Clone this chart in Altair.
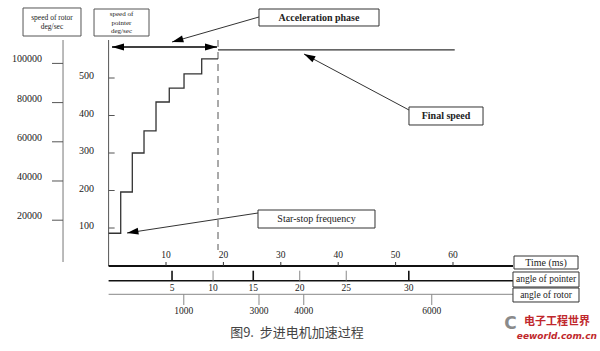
import altair as alt
import pandas as pd

# ---------------- data ----------------
step_time = [0, 2.11, 4.13, 6.17, 8.26, 10.57, 13.14, 16.22, 19.06]
step_speed = [86, 196, 300, 359, 436, 473, 511, 551, 551]
final_time = [19.06, 60.3]
final_speed = [575, 575]
accel_end = 19.06

rotor_ticks = [20000, 40000, 60000, 80000, 100000]
pointer_ticks = [100, 200, 300, 400, 500]
time_ticks = [10, 20, 30, 40, 50, 60]
angle_pointer_labels = ["5", "10", "15", "20", "25", "30"]
angle_pointer_time = [11.05, 18.2, 25.2, 33.3, 41.4, 52.3]
angle_pointer_major = [True, False, True, False, False, True]
angle_rotor_labels = ["1000", "3000", "4000", "6000"]
angle_rotor_time = [13.1, 26.2, 34.0, 56.3]

caption = "图9.\u00a0\u00a0步进电机加速过程"

# ---------------- scales ----------------
XS = alt.Scale(domain=[-18.92, 85.61], nice=False, zero=False)
YS = alt.Scale(domain=[-228, 708], nice=False, zero=False)
RS = alt.Scale(domain=[-46735, 132347], nice=False, zero=False)

SERIF = "Liberation Serif"
INK = "#222222"


def df(**cols):
    return pd.DataFrame(cols)


def rule(d, color=INK, width=1.0, dash=None, yscale=YS):
    kw = dict(color=color, strokeWidth=width)
    if dash:
        kw["strokeDash"] = dash
    return alt.Chart(d).mark_rule(**kw).encode(
        x=alt.X("x:Q", scale=XS, axis=None),
        x2="x2:Q",
        y=alt.Y("y:Q", scale=yscale, axis=None),
        y2="y2:Q",
    )


def text(d, size=9.5, align="center", font=SERIF, weight="normal", color=INK,
         dx=0, dy=0, style="normal", yscale=YS):
    return alt.Chart(d).mark_text(
        fontSize=size, align=align, baseline="middle", font=font,
        fontWeight=weight, color=color, dx=dx, dy=dy, fontStyle=style,
    ).encode(
        x=alt.X("x:Q", scale=XS, axis=None),
        y=alt.Y("y:Q", scale=yscale, axis=None),
        text="t:N",
    )


def box(x, x2, y, y2, stroke="#333333", width=1.0):
    return alt.Chart(df(x=[x], x2=[x2], y=[y], y2=[y2])).mark_rect(
        fill="white", stroke=stroke, strokeWidth=width
    ).encode(
        x=alt.X("x:Q", scale=XS, axis=None),
        x2="x2:Q",
        y=alt.Y("y:Q", scale=YS, axis=None),
        y2="y2:Q",
    )


ARROW = "M 0 0 L -2 -0.6 L -2 0.6 Z"


def head(x, y, angle, size=144):
    return alt.Chart(df(x=[x], y=[y])).mark_point(
        shape=ARROW, filled=True, size=size, color="black", opacity=1,
        angle=angle, strokeWidth=0,
    ).encode(
        x=alt.X("x:Q", scale=XS, axis=None),
        y=alt.Y("y:Q", scale=YS, axis=None),
    )


layers = []

# ---- left axes ----
layers.append(rule(df(x=[-7.94], x2=[-7.94], y=[601.3], y2=[9.3]), color="#777777"))
layers.append(rule(df(x=[0], x2=[0], y=[601.3], y2=[-1.3]), color="#555555"))
layers.append(rule(df(x=[-9.86] * 5, x2=[-7.94] * 5, y=rotor_ticks, y2=rotor_ticks),
                   color="#555555", yscale=RS))
layers.append(text(df(x=[-11.6] * 5, y=rotor_ticks, t=[str(v) for v in rotor_ticks]),
                   size=10, align="right", dy=-4, yscale=RS))
layers.append(rule(df(x=[0] * 5, x2=[1.05] * 5, y=pointer_ticks, y2=pointer_ticks),
                   color="#555555"))
layers.append(text(df(x=[-2.54] * 5, y=pointer_ticks, t=[str(v) for v in pointer_ticks]),
                   size=10, align="right", dy=-2))

# ---- dashed end of acceleration ----
layers.append(rule(df(x=[accel_end], x2=[accel_end], y=[601.3], y2=[41.3]),
                   color="#555555", dash=[7, 5]))

# ---- speed profile ----
layers.append(alt.Chart(df(x=step_time, y=step_speed)).mark_line(
    interpolate="step-after", color="#333333", strokeWidth=1.3
).encode(x=alt.X("x:Q", scale=XS, axis=None), y=alt.Y("y:Q", scale=YS, axis=None)))
layers.append(alt.Chart(df(x=final_time, y=final_speed)).mark_line(
    color="#333333", strokeWidth=1.3
).encode(x=alt.X("x:Q", scale=XS, axis=None), y=alt.Y("y:Q", scale=YS, axis=None)))

# ---- bottom axes ----
layers.append(rule(df(x=[0], x2=[70.45], y=[-1.3], y2=[-1.3]), color="#111111", width=1.8))
layers.append(rule(df(x=time_ticks, x2=time_ticks, y=[9.3] * 6, y2=[-1.3] * 6),
                   color="#333333"))
layers.append(text(df(x=time_ticks, y=[28] * 6, t=[str(v) for v in time_ticks])))

layers.append(rule(df(x=[0], x2=[70.45], y=[-40.5], y2=[-40.5]), color="#111111", width=1.5))
maj = [t for t, m in zip(angle_pointer_time, angle_pointer_major) if m]
mnr = [t for t, m in zip(angle_pointer_time, angle_pointer_major) if not m]
layers.append(rule(df(x=maj, x2=maj, y=[-13.9] * len(maj), y2=[-40.5] * len(maj)),
                   color="#111111", width=1.6))
layers.append(rule(df(x=mnr, x2=mnr, y=[-13.9] * len(mnr), y2=[-40.5] * len(mnr)),
                   color="#888888", width=1.0))
layers.append(text(df(x=angle_pointer_time, y=[-58.7] * 6, t=angle_pointer_labels)))

layers.append(rule(df(x=[0], x2=[70.45], y=[-76.8], y2=[-76.8]), color="#888888", width=1.0))
layers.append(rule(df(x=angle_rotor_time, x2=angle_rotor_time, y=[-76.8] * 4, y2=[-105.3] * 4),
                   color="#888888", width=1.0))
layers.append(text(df(x=angle_rotor_time, y=[-121.3] * 4, t=angle_rotor_labels)))

# ---- boxes at right of bottom axes ----
layers.append(box(70.63, 81.78, 25.3, -9.3))
layers.append(text(df(x=[76.2], y=[8], t=["Time (ms)"]), size=10))
layers.append(box(70.45, 81.95, -17.3, -57.3))
layers.append(text(df(x=[76.2], y=[-37.3], t=["angle of pointer"]), size=9.5))
layers.append(box(70.45, 81.95, -60, -97.3))
layers.append(text(df(x=[76.2], y=[-78.7], t=["angle of rotor"]), size=9.5))

# ---- top-left axis title boxes ----
layers.append(box(-14.91, -4.81, 686.7, 612, stroke="#555555"))
layers.append(text(df(x=[-9.86, -9.86], y=[660, 636], t=["speed of rotor", "deg/sec"]), size=7.5))
layers.append(box(-2.54, 7.04, 684, 612, stroke="#555555"))
layers.append(text(df(x=[2.25] * 3, y=[670.7, 648, 625.3], t=["speed of", "pointer", "deg/sec"]),
                   size=7))

# ---- acceleration phase double arrow ----
layers.append(rule(df(x=[0.59], x2=[18.89], y=[582.7], y2=[582.7]), color="black", width=1.5))
layers.append(head(0.59, 582.7, 180))
layers.append(head(18.89, 582.7, 0))

# ---- callouts ----
layers.append(rule(df(x=[26.2], x2=[11.05], y=[662.7], y2=[596]), color="#333333"))
layers.append(head(11.05, 596, 164, size=130))
layers.append(box(26.2, 47.11, 684, 638.7))
layers.append(text(df(x=[36.66], y=[661.3], t=["Acceleration phase"]), size=10, weight="bold"))

layers.append(rule(df(x=[52.33], x2=[34.04], y=[414.7], y2=[564]), color="#333333"))
layers.append(head(34.04, 564, 208, size=130))
layers.append(box(52.33, 65.23, 422.7, 374.7))
layers.append(text(df(x=[58.78], y=[398.7], t=["Final speed"]), size=10, weight="bold"))

layers.append(rule(df(x=[26.03], x2=[3.21], y=[140], y2=[86.7]), color="#333333"))
layers.append(head(3.21, 86.7, 171, size=130))
layers.append(box(26.03, 46.41, 148, 100))
layers.append(text(df(x=[36.22], y=[124], t=["Star-stop frequency"]), size=10))

# ---- caption & watermark ----
layers.append(text(df(x=[32.82], y=[-180], t=[caption]), size=13,
                   font="Noto Sans CJK SC", color="#444444"))
layers.append(text(df(x=[70.0], y=[-156], t=["C"]), size=17, weight="bold",
                   font="DejaVu Sans", color="#8a8a8a"))
layers.append(text(df(x=[78.1], y=[-150.7], t=["电子工程世界"]), size=11, weight="bold",
                   font="Noto Sans CJK SC", color="#c0282d"))
layers.append(text(df(x=[78.1], y=[-186.7], t=["eeworld.com.cn"]), size=9, weight="bold",
                   font="DejaVu Sans", color="#c0282d", style="italic"))

chart = alt.layer(*layers).resolve_scale(y="independent").properties(
    width=600, height=351, autosize=alt.AutoSizeParams(type="none"), padding=0,
    background="white",
).configure_view(stroke=None)

chart.save("out.html", embed_options={"renderer": "svg", "actions": False})
